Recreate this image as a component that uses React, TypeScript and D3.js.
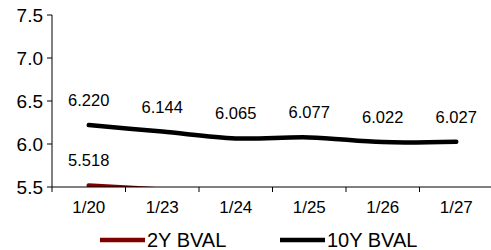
import { useMemo } from "react"
import * as d3 from "d3"

const categories = ["1/20", "1/23", "1/24", "1/25", "1/26", "1/27"]
const yTicks = [5.5, 6.0, 6.5, 7.0, 7.5]
// 2Y BVAL drops below the 5.5 floor after 1/20, so only the first points are visible
const twoYear: (number | null)[] = [5.518, 5.47, null, null, null, null]
const tenYear = [6.22, 6.144, 6.065, 6.077, 6.022, 6.027]
const seriesNames = ["2Y BVAL", "10Y BVAL"]
const seriesColors = ["#800000", "#000000"]

const width = 491
const height = 250
const margin = { top: 15, right: -2, bottom: 63, left: 52 }
const font = "'Liberation Sans', Arial, sans-serif"

export default function App() {
  const innerWidth = width - margin.left - margin.right
  const innerHeight = height - margin.top - margin.bottom

  const x = useMemo(() => d3.scaleBand<string>().domain(categories).range([0, innerWidth]), [innerWidth])
  const y = useMemo(() => d3.scaleLinear().domain([5.5, 7.5]).range([innerHeight, 0]), [innerHeight])
  const cx = (c: string) => (x(c) as number) + x.bandwidth() / 2

  const line = d3
    .line<number | null>()
    .defined((d) => d != null)
    .x((_, i) => cx(categories[i]))
    .y((d) => y(d as number))
    .curve(d3.curveCatmullRom.alpha(0.5))

  const series = [twoYear, tenYear]

  return (
    <div style={{ position: "absolute", left: 0, top: 0 }}>
      <svg width={width} height={height} style={{ display: "block", fontFamily: font }}>
        <rect width={width} height={height} fill="#fff" />
        <defs>
          <clipPath id="plot">
            <rect x={0} y={0} width={innerWidth} height={innerHeight} />
          </clipPath>
        </defs>
        <g transform={`translate(${margin.left},${margin.top})`}>
          {/* Lines */}
          <g clipPath="url(#plot)">
            {series.map((s, i) => (
              <path
                key={seriesNames[i]}
                d={line(s) ?? ""}
                fill="none"
                stroke={seriesColors[i]}
                strokeWidth={4.5}
                strokeLinecap="round"
                strokeLinejoin="round"
              />
            ))}
          </g>

          {/* Data labels, hidden when the point falls outside the plot */}
          {series.map((s, i) =>
            s.map((v, j) =>
              v != null && v >= 5.5 ? (
                <text
                  key={`${i}-${j}`}
                  x={cx(categories[j])}
                  y={y(v) - 19}
                  textAnchor="middle"
                  fontSize={16.5}
                  fill="#000"
                >
                  {v.toFixed(3)}
                </text>
              ) : null,
            ),
          )}

          {/* Y axis */}
          <line x1={0} x2={0} y1={0} y2={innerHeight} stroke="#000" strokeWidth={1} />
          {yTicks.map((t) => (
            <g key={t} transform={`translate(0,${y(t)})`}>
              <line x1={-5} x2={0} stroke="#000" />
              <text x={-9} y={7} textAnchor="end" fontSize={19} fill="#000">
                {t.toFixed(1)}
              </text>
            </g>
          ))}

          {/* X axis */}
          <line x1={0} x2={innerWidth} y1={innerHeight} y2={innerHeight} stroke="#000" strokeWidth={1} />
          {categories.map((c) => (
            <g key={c}>
              <line
                x1={(x(c) as number) + x.bandwidth()}
                x2={(x(c) as number) + x.bandwidth()}
                y1={innerHeight}
                y2={innerHeight + 5}
                stroke="#000"
              />
              <text x={cx(c)} y={innerHeight + 26} textAnchor="middle" fontSize={17} fill="#000">
                {c}
              </text>
            </g>
          ))}
          <line x1={0} x2={0} y1={innerHeight} y2={innerHeight + 5} stroke="#000" />
        </g>

        {/* Legend */}
        {seriesNames.map((name, i) => {
          const lx = [100, 280][i]
          return (
            <g key={name} transform={`translate(${lx},240)`}>
              <line x1={0} x2={45} stroke={seriesColors[i]} strokeWidth={4.5} />
              <text x={47} y={7} fontSize={20} fill="#000">
                {name}
              </text>
            </g>
          )
        })}
      </svg>
    </div>
  )
}
